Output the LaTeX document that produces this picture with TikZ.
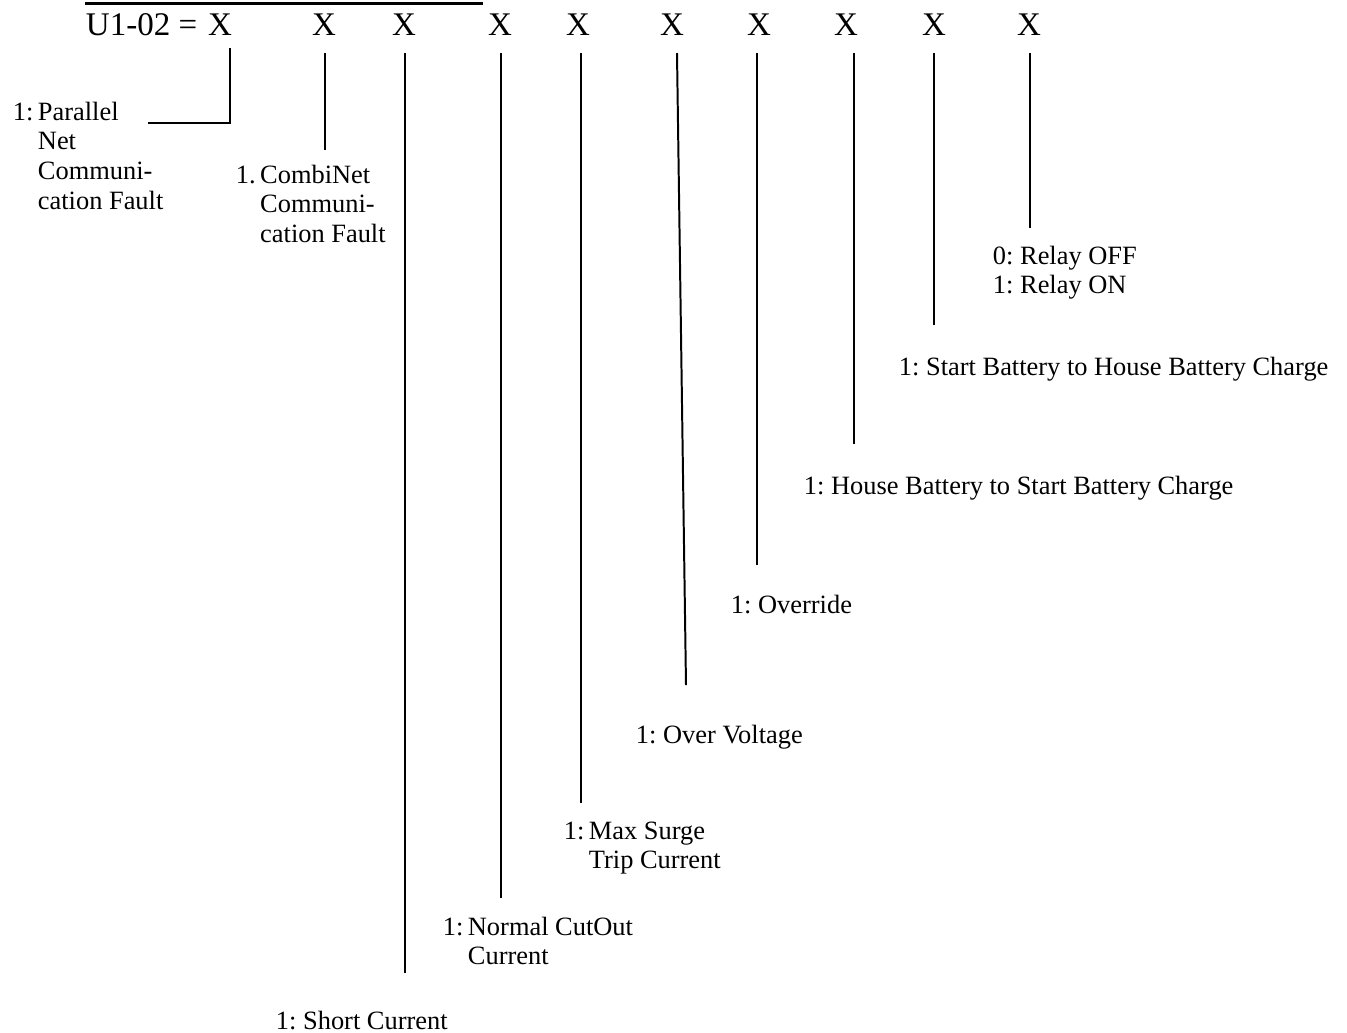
\documentclass[tikz,border=0pt]{standalone}
\usepackage{fontspec}
\setmainfont{Liberation Serif}
\frenchspacing
\newcommand{\hangitem}[2]{#1\hspace{2pt}\begin{tabular}[t]{@{}l@{}}#2\end{tabular}}

\begin{document}
\begin{tikzpicture}[x=0.4543pt,y=-0.4543pt,line width=0.9pt,
	bit node/.style = {inner sep=0pt, anchor=base, font=\fontsize{15}{17}\selectfont},
	text node/.style = {inner sep=0pt, anchor=base west, font=\fontsize{12}{13.6}\selectfont}]
	\useasboundingbox (0,0) rectangle (1347,1032);

	\node[text node,font=\fontsize{15}{17}\selectfont] (u) at (85,35) {U1-02 =};
	\node[bit node] (x1) at (220,35) {X};
	\node[bit node] (x2) at (324,35) {X};
	\node[bit node] (x3) at (404,35) {X};
	\node[bit node] (x4) at (500,35) {X};
	\node[bit node] (x5) at (578,35) {X};
	\node[bit node] (x6) at (672,35) {X};
	\node[bit node] (x7) at (759,35) {X};
	\node[bit node] (x8) at (846,35) {X};
	\node[bit node] (x9) at (934,35) {X};
	\node[bit node] (x10) at (1029,35) {X};
	\draw[line width=1.8pt] (85,3.5) -- (483,3.5);

	\node[text node] (l1) at (12,120) {\hangitem{1:}{Parallel\\Net\\Communi-\\cation Fault}};
	\node[text node] (l2) at (235,183) {\hangitem{1.}{CombiNet\\Communi-\\cation Fault}};
	\node[text node] (l3) at (275,1029) {1: Short Current};
	\node[text node] (l4) at (442,935) {\hangitem{1:}{Normal CutOut\\Current}};
	\node[text node] (l5) at (563,839) {\hangitem{1:}{Max Surge\\Trip Current}};
	\node[text node] (l6) at (635,743) {1: Over Voltage};
	\node[text node] (l7) at (730,613) {1: Override};
	\node[text node] (l8) at (803,494) {1: House Battery to Start Battery Charge};
	\node[text node] (l9) at (898,375) {1: Start Battery to House Battery Charge};
	\node[text node] (l10) at (992,264) {\begin{tabular}[t]{@{}l@{}}0: Relay OFF\\1: Relay ON\end{tabular}};

	\coordinate (t1) at (230,48);  \coordinate (b1) at (148,123);
	\coordinate (t2) at (325,53);  \coordinate (b2) at (325,150);
	\coordinate (t3) at (405,53);  \coordinate (b3) at (405,973);
	\coordinate (t4) at (501,53);  \coordinate (b4) at (501,898);
	\coordinate (t5) at (581,53);  \coordinate (b5) at (581,803);
	\coordinate (t6) at (677,53);  \coordinate (b6) at (686,685);
	\coordinate (t7) at (757,53);  \coordinate (b7) at (757,565);
	\coordinate (t8) at (854,53);  \coordinate (b8) at (854,444);
	\coordinate (t9) at (934,53);  \coordinate (b9) at (934,325);
	\coordinate (t10) at (1030,53); \coordinate (b10) at (1030,228);

	\draw (t1) |- (b1);
	\draw (t2) -- (b2);
	\draw (t3) -- (b3);
	\draw (t4) -- (b4);
	\draw (t5) -- (b5);
	\draw (t6) -- (b6);
	\draw (t7) -- (b7);
	\draw (t8) -- (b8);
	\draw (t9) -- (b9);
	\draw (t10) -- (b10);
\end{tikzpicture}
\end{document}
